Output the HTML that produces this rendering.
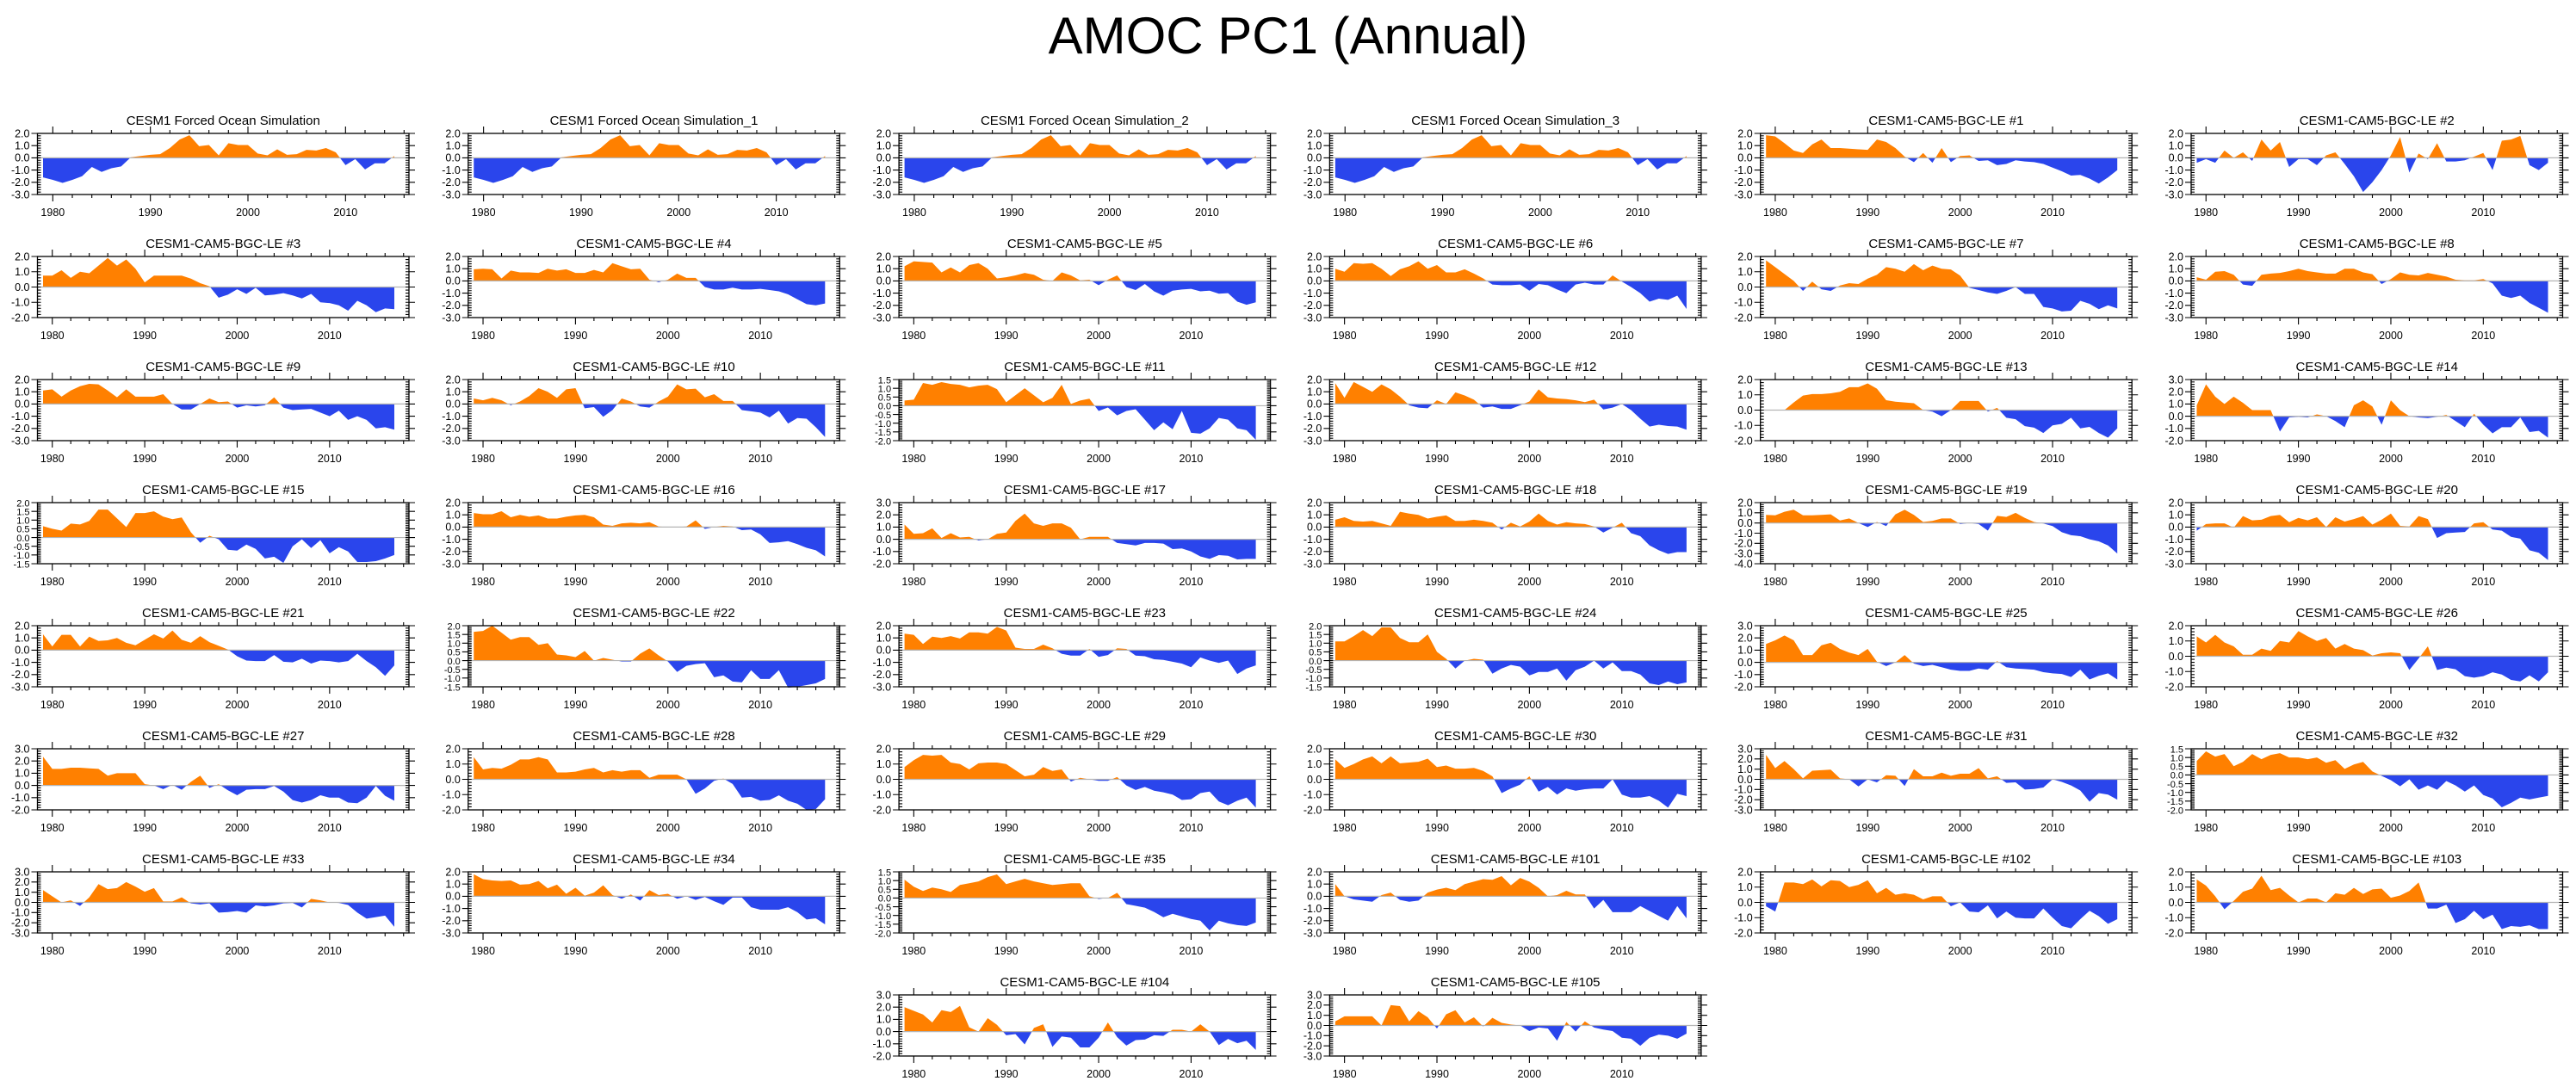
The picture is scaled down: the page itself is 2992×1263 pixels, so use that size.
<!DOCTYPE html>
<html><head><meta charset="utf-8"><style>
html,body{margin:0;padding:0;background:#fff;}
svg{display:block;font-family:"Liberation Sans",Arial,sans-serif;}
</style></head><body>
<svg id="chart" width="2992" height="1263" viewBox="0 0 2992 1263" xmlns="http://www.w3.org/2000/svg">
<rect width="2992" height="1263" fill="#fff"/>
<text x="1496" y="62" font-size="60" text-anchor="middle">AMOC PC1 (Annual)</text>
<g id="panels"></g>
</svg>
<script>
const fos = [-1.6,-1.8,-2.05,-1.8,-1.5,-0.75,-1.15,-0.85,-0.7,0.05,0.15,0.25,0.3,0.8,1.5,1.85,0.95,1.05,0.2,1.2,1.05,1.05,0.35,0.2,0.7,0.25,0.3,0.65,0.6,0.8,0.45,-0.6,-0.1,-0.95,-0.45,-0.45,0.15];
const m1 = [1.85,1.75,1.2,0.6,0.4,1.1,1.5,0.8,0.8,0.75,0.7,0.65,1.5,1.3,0.8,0.1,-0.35,0.4,-0.4,0.8,-0.35,0.15,0.2,-0.25,-0.2,-0.6,-0.5,-0.2,-0.3,-0.35,-0.5,-0.8,-1.1,-1.45,-1.4,-1.7,-2.1,-1.6,-1.0];
const m2 = [-0.4,-0.1,-0.4,0.6,0.0,0.45,-0.25,1.5,0.6,1.3,-0.75,-0.1,-0.1,-0.6,0.2,0.45,-0.5,-1.5,-2.8,-2.0,-1.0,0.2,1.7,-1.2,0.35,-0.1,1.2,-0.3,-0.3,-0.2,0.1,0.4,-1.0,1.4,1.5,1.8,-0.6,-1.0,-0.4];
const m3 = [0.75,0.75,1.1,0.6,1.0,0.9,1.4,1.9,1.4,1.8,1.2,0.3,0.75,0.75,0.75,0.75,0.55,0.25,0.05,-0.7,-0.5,-0.15,-0.45,-0.05,-0.55,-0.5,-0.4,-0.55,-0.75,-0.45,-1.0,-1.05,-1.2,-1.55,-0.9,-1.2,-1.65,-1.4,-1.45];
const m4 = [0.95,1.0,0.95,0.2,0.85,0.7,0.7,0.65,1.0,0.85,0.95,0.65,0.65,0.9,0.7,1.45,1.2,0.95,1.0,0.1,-0.1,0.1,0.6,0.25,0.25,-0.5,-0.7,-0.7,-0.55,-0.7,-0.7,-0.65,-0.75,-0.85,-1.1,-1.5,-1.9,-2.0,-1.85];
const m5 = [1.2,1.6,1.55,1.5,0.7,1.1,0.7,1.3,1.45,1.0,0.2,0.3,0.45,0.65,0.5,0.1,0.0,0.7,0.45,0.05,0.1,-0.35,0.1,0.45,-0.5,-0.75,-0.25,-0.85,-1.2,-0.8,-0.7,-0.65,-0.85,-0.8,-1.05,-1.0,-1.7,-1.95,-1.75];
const m6 = [1.0,0.75,1.45,1.4,1.45,1.0,0.4,0.95,1.2,1.6,1.0,1.3,0.7,0.7,0.95,0.6,0.2,-0.3,-0.35,-0.35,-0.3,-0.8,-0.25,-0.35,-0.7,-1.0,-0.3,-0.15,-0.3,-0.3,0.45,-0.05,-0.5,-1.0,-1.7,-1.45,-1.55,-1.2,-2.3];
const m7 = [1.75,1.3,0.85,0.4,-0.25,0.35,-0.15,-0.25,0.1,0.25,0.2,0.55,0.8,1.3,1.2,1.0,1.5,1.1,1.4,1.2,1.15,0.75,-0.05,-0.2,-0.35,-0.45,-0.25,0.0,-0.45,-0.45,-1.3,-1.4,-1.6,-1.55,-0.9,-1.1,-1.45,-1.2,-1.4];
const m8 = [0.3,0.1,0.75,0.8,0.5,-0.3,-0.4,0.5,0.6,0.65,0.8,1.0,0.8,0.7,0.6,0.6,1.0,1.0,0.7,0.55,-0.25,0.15,0.7,0.5,0.45,0.65,0.5,0.35,0.1,0.05,0.05,0.15,-0.2,-1.2,-1.4,-1.2,-1.8,-2.2,-2.6];
const m9 = [1.1,1.2,0.6,1.1,1.45,1.65,1.6,1.1,0.55,1.2,0.6,0.6,0.6,0.8,0.0,-0.45,-0.45,0.0,0.45,0.15,0.2,-0.3,-0.1,-0.2,-0.1,0.55,-0.3,-0.5,-0.45,-0.4,-0.7,-1.0,-0.55,-1.3,-1.0,-1.3,-2.0,-1.9,-2.1];
const m10 = [0.45,0.3,0.5,0.3,-0.1,0.2,0.65,1.3,1.0,0.5,1.2,1.3,-0.35,-0.25,-1.05,-0.5,0.45,0.2,-0.2,-0.3,0.2,0.6,1.6,1.2,1.25,0.55,0.8,0.25,0.25,-0.5,-0.6,-0.7,-1.1,-0.55,-1.6,-1.15,-1.2,-1.9,-2.7];
const m11 = [0.3,0.35,1.3,1.2,1.35,1.25,1.2,1.05,1.15,1.2,0.95,0.2,0.6,1.0,0.6,0.2,0.45,1.2,0.1,0.3,0.4,-0.3,-0.1,-0.55,-0.3,-0.2,-0.8,-1.4,-0.95,-1.35,-0.3,-1.55,-1.6,-1.3,-0.7,-0.8,-1.3,-1.4,-1.95];
const m12 = [1.7,0.5,1.8,1.4,1.0,1.6,1.2,0.6,-0.1,-0.3,-0.35,0.3,0.0,0.95,0.7,0.35,-0.3,-0.2,-0.4,-0.4,-0.1,0.2,1.2,0.55,0.45,0.4,0.3,0.15,0.35,-0.45,-0.3,0.0,-0.5,-1.2,-1.85,-1.7,-1.8,-1.85,-2.1];
const m13 = [0.0,0.0,0.0,0.5,0.95,1.05,1.05,1.1,1.2,1.5,1.5,1.75,1.4,0.65,0.55,0.5,0.45,0.0,-0.1,-0.4,0.0,0.6,0.6,0.6,-0.1,0.15,-0.5,-0.6,-1.05,-1.15,-1.5,-1.0,-0.9,-0.5,-1.2,-1.1,-1.5,-1.8,-1.2];
const m14 = [0.9,2.6,1.6,1.0,1.6,1.1,0.5,0.5,0.5,-1.25,-0.1,-0.05,-0.1,0.15,0.0,-0.4,-0.9,0.9,1.3,0.8,-0.7,1.3,0.5,0.0,-0.1,-0.15,-0.05,0.1,-0.4,-0.9,0.2,-0.7,-1.4,-0.9,-0.9,-0.1,-1.3,-1.2,-1.75];
const m15 = [0.65,0.5,0.4,0.8,0.75,0.95,1.6,1.6,1.1,0.6,1.4,1.4,1.5,1.2,1.05,1.15,0.3,-0.3,0.1,-0.1,-0.7,-0.75,-0.4,-0.65,-1.2,-1.1,-1.45,-0.5,-0.1,-0.6,-0.15,-0.9,-0.55,-0.8,-1.4,-1.4,-1.35,-1.2,-1.0];
const m16 = [1.15,1.05,1.05,1.3,0.8,1.0,0.85,0.95,0.7,0.7,0.85,0.95,1.0,0.8,0.2,0.1,0.3,0.35,0.3,0.4,0.05,0.0,0.0,0.05,0.55,-0.15,0.0,0.1,0.05,-0.25,-0.2,-0.6,-1.3,-1.25,-1.15,-1.4,-1.7,-1.9,-2.4];
const m17 = [1.2,0.45,0.5,0.9,0.1,0.5,0.15,0.2,-0.1,0.0,0.45,0.55,1.5,2.1,1.3,1.1,1.3,1.3,0.95,0.0,0.2,0.2,0.2,-0.3,-0.4,-0.5,-0.3,-0.3,-0.35,-0.8,-0.75,-1.0,-1.4,-1.6,-1.3,-1.35,-1.65,-1.6,-1.6];
const m18 = [0.6,0.8,0.5,0.45,0.5,0.3,0.1,1.25,1.1,1.0,0.7,0.85,0.95,0.5,0.5,0.6,0.5,0.35,-0.2,0.35,0.05,0.45,1.1,0.5,0.2,0.4,0.3,0.25,0.05,-0.45,-0.05,0.35,-0.5,-0.75,-1.5,-1.9,-2.2,-2.05,-2.05];
const m19 = [0.8,0.75,1.1,1.3,0.75,0.75,0.8,0.85,0.25,0.45,0.0,-0.4,0.1,-0.3,0.85,1.3,0.8,0.1,0.2,0.45,0.45,-0.1,0.0,-0.1,-0.75,0.7,0.6,1.0,0.5,0.1,-0.05,-0.3,-0.9,-1.2,-1.3,-1.6,-1.8,-2.2,-3.0];
const m20 = [-0.3,0.25,0.3,0.3,-0.05,0.9,0.55,0.6,0.9,1.0,0.4,0.75,0.55,0.8,0.0,0.8,0.45,0.65,0.9,0.2,0.6,1.1,0.1,0.05,0.9,0.65,-0.9,-0.5,-0.45,-0.4,0.3,0.4,-0.2,-0.3,-0.8,-0.95,-1.9,-2.1,-2.7];
const m21 = [1.3,0.3,1.25,1.25,0.3,1.1,0.75,0.8,1.0,0.6,0.4,0.85,1.3,0.95,1.6,0.85,0.6,1.15,0.65,0.35,0.05,-0.5,-0.85,-0.9,-0.9,-0.4,-0.95,-1.0,-0.7,-1.1,-0.85,-0.9,-1.0,-0.9,-0.3,-0.9,-1.4,-2.1,-1.25];
const m22 = [1.65,1.7,2.0,1.6,1.2,1.35,1.35,0.9,1.0,0.35,0.3,0.2,0.55,0.0,0.15,0.05,-0.05,-0.05,0.4,0.7,0.3,-0.05,-0.65,-0.3,-0.2,-0.15,-0.95,-0.85,-1.2,-1.25,-0.55,-1.05,-1.05,-0.55,-1.55,-1.5,-1.4,-1.3,-1.05];
const m23 = [1.35,1.25,0.5,1.1,1.0,1.15,0.95,1.45,1.45,1.35,1.9,1.6,0.2,0.1,0.1,0.45,0.15,-0.3,-0.45,-0.45,0.1,-0.55,-0.4,0.15,0.1,-0.45,-0.5,-0.75,-0.8,-0.95,-1.1,-1.4,-0.6,-0.85,-1.05,-0.85,-1.95,-1.5,-1.25];
const m24 = [1.1,1.1,1.4,1.75,1.4,1.9,1.9,1.3,1.05,1.05,1.5,0.5,0.1,-0.45,0.0,0.1,0.05,-0.75,-0.45,-0.25,-0.35,-0.85,-0.65,-0.65,-0.45,-1.15,-0.55,-0.35,0.0,-0.45,-0.1,-0.6,-0.6,-0.8,-1.3,-1.4,-1.2,-1.35,-1.25];
const m25 = [1.5,1.8,2.2,1.8,0.6,0.6,1.4,1.6,1.1,0.8,0.6,1.1,0.05,-0.3,0.0,0.6,-0.1,-0.3,-0.2,-0.4,-0.6,-0.7,-0.7,-0.5,-0.6,0.1,-0.4,-0.5,-0.55,-0.6,-0.8,-0.9,-0.95,-1.2,-0.6,-1.4,-1.1,-0.9,-1.4];
const m26 = [1.3,0.9,1.4,0.9,0.65,0.1,0.1,0.5,0.35,1.0,0.9,1.65,1.3,1.0,1.2,0.5,0.8,0.5,0.4,0.05,0.2,0.25,0.2,-0.9,-0.15,0.65,-0.9,-0.75,-0.85,-1.3,-1.4,-1.3,-1.05,-1.2,-1.55,-1.65,-1.25,-1.65,-1.05];
const m27 = [2.35,1.35,1.35,1.45,1.45,1.4,1.35,0.8,1.0,1.0,1.0,0.1,0.0,-0.3,0.05,-0.35,0.3,0.8,-0.2,0.1,-0.4,-0.8,-0.35,-0.3,-0.3,-0.05,-0.5,-1.2,-1.4,-1.2,-0.8,-1.0,-1.0,-1.4,-1.45,-1.0,-0.05,-0.85,-1.25];
const m28 = [1.45,0.65,0.75,0.7,0.95,1.3,1.3,1.45,1.3,0.45,0.45,0.5,0.65,0.75,0.45,0.6,0.5,0.6,0.6,0.1,0.3,0.3,0.3,0.0,-0.95,-0.6,-0.1,0.05,-0.3,-1.2,-1.15,-1.4,-1.35,-1.05,-1.4,-1.6,-2.0,-1.95,-1.3];
const m29 = [0.8,1.25,1.6,1.55,1.6,1.1,1.0,0.65,1.05,1.1,1.1,1.0,0.6,0.2,0.3,0.8,0.55,0.65,-0.15,0.1,0.0,-0.1,-0.1,0.15,-0.4,-0.7,-0.5,-0.75,-0.85,-1.0,-1.35,-1.3,-0.9,-0.8,-1.45,-1.7,-1.4,-1.2,-1.85];
const m30 = [1.3,0.75,1.0,1.3,1.5,1.05,1.5,1.05,1.1,1.15,1.35,0.8,0.9,0.7,0.7,0.75,0.55,0.2,-0.9,-0.6,-0.35,0.2,-0.8,-0.5,-1.0,-0.6,-0.75,-0.65,-0.6,-0.6,0.0,-1.0,-1.2,-1.2,-1.1,-1.4,-1.85,-0.95,-1.1];
const m31 = [2.4,1.1,1.8,1.0,0.1,0.85,0.9,0.95,0.1,0.0,-0.7,0.0,-0.3,0.4,0.35,-0.65,1.0,0.3,0.3,0.65,0.35,0.55,0.55,1.1,0.1,0.3,-0.35,-0.3,-1.0,-0.95,-0.8,0.0,-0.25,-0.6,-1.1,-2.2,-1.35,-1.5,-2.0];
const m32 = [0.8,1.35,1.05,1.2,0.5,0.75,1.2,0.9,1.15,1.25,1.0,1.0,0.9,1.0,0.7,0.85,0.35,0.6,0.75,0.2,-0.05,-0.3,-0.65,-0.25,-0.85,-0.6,-0.85,-0.35,-0.6,-0.95,-0.6,-1.15,-1.35,-1.85,-1.6,-1.3,-1.4,-1.3,-1.2];
const m33 = [1.2,0.6,0.0,0.2,-0.35,0.5,1.8,1.3,1.4,2.0,1.55,1.05,1.4,0.1,0.1,0.5,-0.1,-0.2,-0.1,-1.0,-0.95,-0.85,-1.0,-0.3,-0.4,-0.3,-0.1,-0.05,-0.5,0.35,0.2,0.0,-0.05,-0.25,-1.0,-1.6,-1.45,-1.3,-2.4];
const m34 = [1.8,1.4,1.3,1.25,1.3,0.95,1.0,1.25,0.65,0.95,0.2,0.7,0.05,0.3,0.9,0.1,-0.2,0.15,-0.35,0.5,0.1,0.2,-0.2,0.0,-0.3,-0.05,-0.4,-0.7,-0.1,-0.1,-0.9,-1.1,-1.1,-1.1,-0.9,-1.3,-1.9,-1.8,-2.3];
const m35 = [1.05,0.65,0.4,0.6,0.5,0.35,0.75,0.85,0.95,1.2,1.35,0.8,0.95,1.1,0.95,0.85,0.75,0.8,0.85,0.85,0.1,-0.05,0.0,0.3,-0.35,-0.45,-0.55,-0.8,-1.1,-0.9,-1.05,-1.2,-1.3,-1.85,-1.3,-1.45,-1.55,-1.6,-1.4];
const m101 = [1.0,0.0,-0.25,-0.35,-0.45,0.1,0.3,-0.3,-0.45,-0.35,0.3,0.55,0.7,0.5,1.0,1.2,1.4,1.35,1.65,0.9,1.5,1.2,0.7,0.0,0.1,0.45,0.15,0.15,-1.0,-0.3,-1.3,-1.3,-1.3,-0.8,-1.2,-1.6,-2.0,-0.8,-1.8];
const m102 = [-0.25,-0.6,1.3,1.3,1.2,1.5,1.05,1.45,1.4,1.0,1.15,1.45,0.6,0.95,0.5,0.6,0.5,0.2,0.4,0.4,-0.25,0.0,-0.6,-0.65,-0.2,-1.05,-0.6,-1.0,-1.05,-1.05,-0.4,-1.0,-1.55,-1.7,-1.1,-0.55,-0.9,-1.4,-1.1];
const m103 = [1.5,1.1,0.4,-0.45,0.1,0.7,0.9,1.75,0.8,0.95,0.45,0.0,0.25,0.25,0.0,0.6,0.5,0.95,0.55,0.85,0.9,0.3,0.45,0.75,1.3,-0.4,-0.4,-0.15,-1.35,-1.1,-0.55,-1.1,-0.8,-1.75,-1.55,-1.6,-1.5,-1.75,-1.75];
const m104 = [2.0,1.7,1.4,0.75,1.75,1.6,2.1,0.35,0.0,1.1,0.55,-0.3,-0.2,-1.05,0.3,0.6,-1.25,-0.4,-0.5,-1.3,-1.3,-0.5,0.75,-0.45,-1.15,-0.7,-0.65,-0.3,-0.35,0.15,0.15,0.0,0.6,0.0,-1.1,-0.6,-0.95,-0.75,-1.5];
const m105 = [0.4,0.9,0.9,0.9,0.9,0.0,2.0,1.9,0.4,1.4,0.8,-0.3,1.1,1.5,0.3,0.8,-0.1,0.75,0.25,0.1,0.0,-0.55,-0.2,-0.3,-1.5,0.35,-0.6,0.4,-0.2,-0.4,-0.55,-1.2,-1.3,-2.0,-1.2,-0.9,-1.0,-1.3,-0.8];

const panelTitles = ["CESM1 Forced Ocean Simulation","CESM1 Forced Ocean Simulation_1","CESM1 Forced Ocean Simulation_2","CESM1 Forced Ocean Simulation_3","CESM1-CAM5-BGC-LE #1","CESM1-CAM5-BGC-LE #2",
"CESM1-CAM5-BGC-LE #3","CESM1-CAM5-BGC-LE #4","CESM1-CAM5-BGC-LE #5","CESM1-CAM5-BGC-LE #6","CESM1-CAM5-BGC-LE #7","CESM1-CAM5-BGC-LE #8",
"CESM1-CAM5-BGC-LE #9","CESM1-CAM5-BGC-LE #10","CESM1-CAM5-BGC-LE #11","CESM1-CAM5-BGC-LE #12","CESM1-CAM5-BGC-LE #13","CESM1-CAM5-BGC-LE #14",
"CESM1-CAM5-BGC-LE #15","CESM1-CAM5-BGC-LE #16","CESM1-CAM5-BGC-LE #17","CESM1-CAM5-BGC-LE #18","CESM1-CAM5-BGC-LE #19","CESM1-CAM5-BGC-LE #20",
"CESM1-CAM5-BGC-LE #21","CESM1-CAM5-BGC-LE #22","CESM1-CAM5-BGC-LE #23","CESM1-CAM5-BGC-LE #24","CESM1-CAM5-BGC-LE #25","CESM1-CAM5-BGC-LE #26",
"CESM1-CAM5-BGC-LE #27","CESM1-CAM5-BGC-LE #28","CESM1-CAM5-BGC-LE #29","CESM1-CAM5-BGC-LE #30","CESM1-CAM5-BGC-LE #31","CESM1-CAM5-BGC-LE #32",
"CESM1-CAM5-BGC-LE #33","CESM1-CAM5-BGC-LE #34","CESM1-CAM5-BGC-LE #35","CESM1-CAM5-BGC-LE #101","CESM1-CAM5-BGC-LE #102","CESM1-CAM5-BGC-LE #103",
"CESM1-CAM5-BGC-LE #104","CESM1-CAM5-BGC-LE #105"];
const panelSeries = [fos,fos,fos,fos,m1,m2,m3,m4,m5,m6,m7,m8,m9,m10,m11,m12,m13,m14,m15,m16,m17,m18,m19,m20,m21,m22,m23,m24,m25,m26,m27,m28,m29,m30,m31,m32,m33,m34,m35,m101,m102,m103,m104,m105];
const yMins = [-3,-3,-3,-3,-3,-3, -2,-3,-3,-3,-2,-3, -3,-3,-2,-3,-2,-2, -1.5,-3,-2,-3,-4,-3, -3,-1.5,-3,-1.5,-2,-2, -2,-2,-2,-2,-3,-2, -3,-3,-2,-3,-2,-2, -2,-3];
const yMaxs = [2,2,2,2,2,2, 2,2,2,2,2,2, 2,2,1.5,2,2,3, 2,2,3,2,2,2, 2,2,2,2,3,2, 3,2,2,2,3,1.5, 3,2,1.5,2,2,2, 3,3];
const ySteps = [1,1,1,1,1,1, 1,1,1,1,1,1, 1,1,0.5,1,1,1, 0.5,1,1,1,1,1, 1,0.5,1,0.5,1,1, 1,1,1,1,1,0.5, 1,1,0.5,1,1,1, 1,1];
const startYear = 1979;
const xTickYears = [1980,1990,2000,2010];

const NS = "http://www.w3.org/2000/svg";
const root = document.getElementById("panels");
function mk(tag, attrs, parent){ const e=document.createElementNS(NS,tag); for(const k in attrs) e.setAttribute(k,attrs[k]); (parent||root).appendChild(e); return e; }

const COL0 = 43.5, COLSTEP = 500.3, W = 431.5, ROW0 = 155, ROWSTEP = 143, H = 71;
const ORANGE = "#ff8000", BLUE = "#2a45ec";

panelSeries.forEach((vals, i) => {
  let r, c;
  if (i < 42) { r = Math.floor(i/6); c = i%6; } else { r = 7; c = 2 + (i-42); }
  const L = COL0 + COLSTEP*c, T = ROW0 + ROWSTEP*r, R = L+W, B = T+H;
  const yMin = yMins[i], yMax = yMaxs[i], yStep = ySteps[i];
  const n = vals.length;
  const pxPerYr = 408/(n-1);
  const xs = t => L + 6.5 + (t-startYear)*pxPerYr;
  const ys = v => B - (v-yMin)/(yMax-yMin)*H;
  const g = mk("g", {});
  
  

  const t = mk("text", {x:(L+R)/2, y:T-10, "font-size":"15", "text-anchor":"middle"}, g);
  t.textContent = panelTitles[i];
  
  

  const y0 = ys(0);
  let d = "M" + xs(startYear).toFixed(2) + "," + y0.toFixed(2);
  vals.forEach((v,k)=>{ d += " L" + xs(startYear+k).toFixed(2) + "," + ys(v).toFixed(2); });
  d += " L" + xs(startYear+n-1).toFixed(2) + "," + y0.toFixed(2) + " Z";
  const cidA = "ca"+i, cidB = "cb"+i;
  const defs = mk("defs", {}, g);
  const cpA = mk("clipPath", {id:cidA}, defs); mk("rect", {x:L, y:T-2, width:W, height:y0-T+2}, cpA);
  const cpB = mk("clipPath", {id:cidB}, defs); mk("rect", {x:L, y:y0, width:W, height:B-y0+2}, cpB);
  const pa = mk("path", {d:d, fill:ORANGE, "clip-path":"url(#"+cidA+")"}, g);
  
  
  const pb = mk("path", {d:d, fill:BLUE, "clip-path":"url(#"+cidB+")"}, g);
  
  
  const zl = mk("line", {x1:L, x2:R, y1:y0, y2:y0, stroke:"#b4b4b4", "stroke-width":"1.2"}, g);
  
  

  const fr = mk("rect", {x:L, y:T, width:W, height:H, fill:"none", stroke:"#000", "stroke-width":"1.3"}, g);
  
  

  const tL = startYear - 6.5/pxPerYr, tR = startYear + (W-6.5)/pxPerYr;
  let tk = "";
  for (let yr = Math.ceil(tL/2)*2; yr <= tR; yr += 2) {
    const x = xs(yr).toFixed(2);
    const len = (yr % 10 === 0) ? 8 : 4;
    tk += `M${x},${B}v${len}M${x},${T}v${-len}`;
  }
  const minor = yStep/5;
  for (let v = yMin; v <= yMax + 1e-9; v += minor) {
    const y = ys(v).toFixed(2);
    tk += `M${L},${y}h4M${R},${y}h-4`;
  }
  const nMaj = Math.round((yMax-yMin)/yStep);
  for (let k = 0; k <= nMaj; k++) {
    const y = ys(yMin + k*yStep).toFixed(2);
    tk += `M${L},${y}h-7M${R},${y}h7`;
  }
  const tp = mk("path", {d:tk, stroke:"#000", "stroke-width":"1.1", fill:"none"}, g);
  
  

  xTickYears.forEach(yr => {
    const lb = mk("text", {x:xs(yr), y:B+25, "font-size":"12.5", "text-anchor":"middle"}, g);
    lb.textContent = yr;
    
    
  });
  for (let k = 0; k <= nMaj; k++) {
    const v = yMin + k*yStep;
    const lb = mk("text", {x:L-9, y:ys(v)+4.3, "font-size":(yStep<1?"11":"12.5"), "text-anchor":"end"}, g);
    lb.textContent = v.toFixed(1);
    
    
  }
});
</script>
</body></html>
